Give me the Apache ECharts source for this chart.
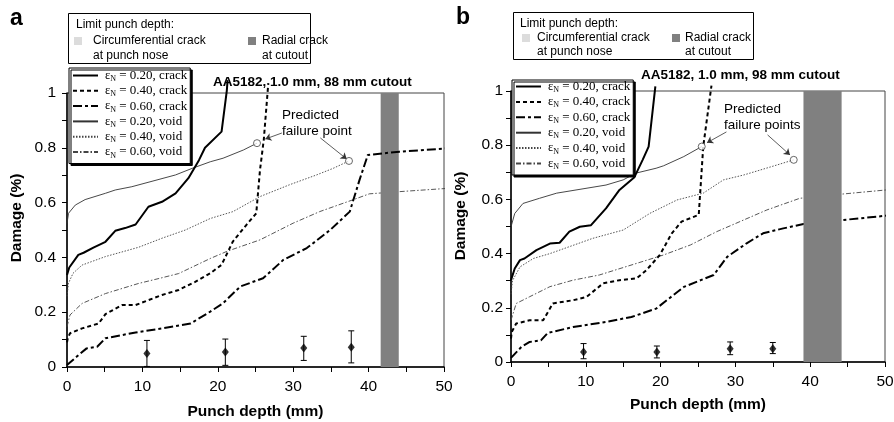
<!DOCTYPE html>
<html><head><meta charset="utf-8">
<script src="https://cdn.jsdelivr.net/npm/echarts@6/dist/echarts.min.js"></script>
<style>html,body{margin:0;padding:0;background:#fff}#c{width:894px;height:422px}</style>
</head><body><div id="c"></div>
<script>
// ---- data: punch depth (mm), damage ----
const xTickLabels = [0, 10, 20, 30, 40, 50];
const yTickLabels = [0, 0.2, 0.4, 0.6, 0.8, 1];

// Panel a: AA5182, 1.0 mm, 88 mm cutout
const aCrack20 = [[0,0.336],[0.3,0.363],[1.5,0.409],[2.2,0.417],[3.5,0.436],[5.1,0.457],[6.4,0.497],[7.7,0.507],[9.1,0.52],[10.8,0.585],[12.6,0.603],[14.4,0.634],[16.1,0.689],[17.5,0.755],[18.3,0.80],[20.5,0.859],[21.2,1.01],[21.3,1.047]];
const aCrack40 = [[0,0.09],[0.1,0.105],[0.4,0.123],[2.0,0.141],[4.2,0.159],[5.1,0.193],[7.3,0.226],[9.1,0.226],[10.8,0.244],[12.6,0.263],[14.8,0.281],[17.0,0.311],[19.0,0.342],[20.5,0.373],[22.0,0.458],[23.8,0.519],[25.1,0.561],[25.6,0.72],[26.1,0.83],[26.7,1.036]];
const aCrack60 = [[0,0.007],[1.3,0.038],[2.6,0.068],[4.0,0.074],[5.1,0.105],[9.1,0.126],[12.6,0.141],[16.4,0.159],[19.0,0.202],[20.7,0.233],[23,0.294],[26,0.324],[28.7,0.391],[31.8,0.434],[34.9,0.5],[37.5,0.567],[38.8,0.683],[39.9,0.774],[44.1,0.786],[50.5,0.798]];
const aVoid20 = [[0,0.524],[0.2,0.561],[1.1,0.591],[2.4,0.611],[5.1,0.634],[6.4,0.646],[8.6,0.658],[14.4,0.701],[16.6,0.725],[19.0,0.749],[20.7,0.762],[23.4,0.792],[25.2,0.817]];
const aVoid40 = [[0,0.258],[0.2,0.306],[0.8,0.342],[2.0,0.372],[5.1,0.403],[9.5,0.437],[12.6,0.47],[15.7,0.5],[19.0,0.542],[22,0.567],[25.6,0.622],[29.5,0.665],[33.1,0.701],[35.3,0.725],[37.4,0.752]];
const aVoid60 = [[0,0.147],[0.4,0.19],[2.0,0.232],[5.1,0.268],[9.5,0.305],[12.2,0.323],[14.8,0.341],[19.0,0.396],[21.2,0.422],[25.6,0.464],[30,0.525],[33.5,0.567],[37.9,0.61],[40.1,0.632],[44.1,0.64],[50.5,0.652]];
const aExp = [[10.6,0.049,0.002,0.097],[21.0,0.055,0.006,0.102],[31.4,0.069,0.024,0.112],[37.7,0.072,0.015,0.132]]; // x, mean, low, high
const aRadialBand = [[41.6, 44.0]];
const aArrows = [[[28.5,0.854],[26.3,0.832]], [[33.6,0.836],[37.1,0.759]]];

// Panel b: AA5182, 1.0 mm, 98 mm cutout
const bCrack20 = [[0,0.302],[0.5,0.345],[1.2,0.376],[1.8,0.382],[3.4,0.413],[5.2,0.437],[6.5,0.44],[7.8,0.481],[9.2,0.499],[10.7,0.505],[12.7,0.567],[14.5,0.635],[16.5,0.682],[17.6,0.746],[18.4,0.795],[19.3,1.017]];
const bCrack40 = [[0,0.086],[0.1,0.111],[0.7,0.142],[2.5,0.154],[4.3,0.154],[5.6,0.216],[8.3,0.228],[10.1,0.24],[12.3,0.29],[14.5,0.302],[16.8,0.309],[18.1,0.339],[19.9,0.395],[21.5,0.475],[22.8,0.518],[25.1,0.543],[25.7,0.795],[26.8,1.02]];
const bCrack60 = [[0,0.015],[1.4,0.056],[2.5,0.074],[4.0,0.08],[4.9,0.107],[8.3,0.129],[12.7,0.148],[16.1,0.166],[19.4,0.197],[23.1,0.277],[27.1,0.321],[28.9,0.388],[31.5,0.438],[33.7,0.475],[36.4,0.493],[39.1,0.509],[44.4,0.524],[50.2,0.54]];
const bVoid20 = [[0,0.499],[0.5,0.548],[1.6,0.585],[3.8,0.604],[6.1,0.623],[12.7,0.653],[15,0.672],[16.7,0.697],[19.4,0.715],[20.4,0.724],[23.1,0.758],[25.5,0.795]];
const bVoid40 = [[0,0.25],[0.2,0.3],[1.2,0.351],[3.0,0.382],[5.2,0.4],[10.9,0.456],[15,0.487],[18.6,0.549],[22.2,0.598],[25.7,0.623],[28.4,0.672],[31.1,0.69],[34.6,0.719],[37.8,0.746]];
const bVoid60 = [[0,0.154],[0.7,0.216],[2.5,0.241],[5.2,0.278],[8.3,0.302],[11.8,0.321],[16.8,0.364],[20.4,0.395],[24,0.432],[27.5,0.481],[31.1,0.524],[34.2,0.561],[38.6,0.604],[44.4,0.62],[50.2,0.635]];
const bExp = [[9.7,0.037,0.012,0.068],[19.5,0.037,0.015,0.059],[29.3,0.049,0.027,0.074],[35.0,0.049,0.031,0.072]];
const bRadialBand = [[39.1, 44.2]];
const bArrows = [[[28.8,0.849],[26.2,0.809]], [[34.3,0.838],[37.3,0.764]]];

const seriesNames = ['c20','c40','c60','v20','v40','v60'];
const legendLabels = {c20:'0.20, crack', c40:'0.40, crack', c60:'0.60, crack', v20:'0.20, void', v40:'0.40, void', v60:'0.60, void'};

// ---- styles ----
const SANS = 'Liberation Sans';
const SERIF = 'Liberation Serif';
const NONE = 'rgba(0,0,0,0)';
const lineStyles = {
  c20: {color:'#000', width:2, type:'solid'},
  c40: {color:'#000', width:2, type:[4,3]},
  c60: {color:'#000', width:2, type:[9,3,3,3]},
  v20: {color:'#333', width:0.9, type:'solid'},
  v40: {color:'#444', width:0.9, type:[1.5,1.5]},
  v60: {color:'#444', width:0.9, type:[5,2,1.5,2]}
};

function lineSeries(name, data, gi, z) {
  return {name, type:'line', data, xAxisIndex:gi, yAxisIndex:gi, symbol:'none', showSymbol:false, clip:false,
    itemStyle:{color:NONE, borderColor:NONE, borderWidth:0},
    lineStyle:lineStyles[name], z, silent:true};
}
function bandSeries(data, gi, z) {
  return {type:'custom', data, xAxisIndex:gi, yAxisIndex:gi, z, silent:true,
    renderItem(params, api) {
      const p1 = api.coord([api.value(0), 0]);
      const p2 = api.coord([api.value(1), 1]);
      return {type:'rect', shape:{x:p1[0], y:p2[1], width:p2[0]-p1[0], height:p1[1]-p2[1]},
        style:{fill:'#808080'}};
    }};
}
function errSeries(data, gi) {
  return {type:'custom', data, xAxisIndex:gi, yAxisIndex:gi, z:8, silent:true,
    renderItem(params, api) {
      const x = api.value(0);
      const lo = api.coord([x, api.value(2)]);
      const hi = api.coord([x, api.value(3)]);
      const st = {stroke:'#000', lineWidth:1};
      return {type:'group', children:[
        {type:'line', shape:{x1:lo[0], y1:lo[1], x2:hi[0], y2:hi[1]}, style:st},
        {type:'line', shape:{x1:lo[0]-3, y1:lo[1], x2:lo[0]+3, y2:lo[1]}, style:st},
        {type:'line', shape:{x1:hi[0]-3, y1:hi[1], x2:hi[0]+3, y2:hi[1]}, style:st}
      ]};
    }};
}
function meanSeries(data, gi) {
  return {type:'scatter', data:data.map(d=>[d[0], d[1]]), xAxisIndex:gi, yAxisIndex:gi, z:9,
    symbol:'diamond', symbolSize:[7,9], itemStyle:{color:'#000'}, silent:true};
}
function failSeries(pts, arrows, gi) {
  return {type:'scatter', data:pts, xAxisIndex:gi, yAxisIndex:gi, z:10, silent:true, clip:false,
    symbol:'circle', symbolSize:7, itemStyle:{color:'#fff', borderColor:'#444', borderWidth:1},
    markLine:{silent:true, symbol:['none','arrow'], symbolSize:6, animation:false,
      lineStyle:{color:'#333', width:0.8, type:'solid'}, label:{show:false},
      data: arrows.map(a=>[{coord:a[0]},{coord:a[1]}])}};
}

function xAxis(gi) {
  return {type:'value', gridIndex:gi, min:0, max:50, interval:10,
    axisLine:{show:true, onZero:false, lineStyle:{color:'#000', width:1.5}},
    axisTick:{show:true, length:5, lineStyle:{color:'#000', width:1}},
    minorTick:{show:true, splitNumber:2, length:5, lineStyle:{color:'#000', width:1}},
    splitLine:{show:false},
    axisLabel:{margin:12, color:'#000', fontFamily:SANS, fontSize:15.5},
    name:'Punch depth (mm)', nameLocation:'middle', nameGap: gi===0 ? 37 : 35,
    nameTextStyle:{color:'#000', fontFamily:SANS, fontSize:15.5, fontWeight:'bold'}};
}
function yAxis(gi) {
  return {type:'value', gridIndex:gi, min:0, max:1, interval:0.2,
    axisLine:{show:true, onZero:false, lineStyle:{color:'#000', width:1.5}},
    axisTick:{show:true, length:5, lineStyle:{color:'#000', width:1}},
    minorTick:{show:true, splitNumber:2, length:5, lineStyle:{color:'#000', width:1}},
    splitLine:{show:false},
    axisLabel:{margin: gi===0 ? 11 : 8, color:'#000', fontFamily:SANS, fontSize:15.5,
      formatter: v => (v === 0 ? '0' : (Math.abs(v-1) < 1e-9 ? '1' : v.toFixed(1)))}};
}
function legend(gi, left, top, gap, itemH, pad) {
  return {show:true, left, top, orient:'vertical', itemWidth:25, itemHeight:itemH, itemGap:gap,
    padding:pad, backgroundColor:'#fff', borderColor:'#000', borderWidth:1, borderRadius:0,
    shadowColor:'#000', shadowOffsetX:2, shadowOffsetY:2, shadowBlur:0, z:20,
    selectedMode:false, data:seriesNames,
    itemStyle:{color:NONE, borderColor:NONE, borderWidth:0},
    formatter: n => '{e|ε}{s|N}{t| = ' + legendLabels[n] + '}',
    textStyle:{color:'#000', fontFamily:SERIF, fontSize:13,
      rich:{e:{fontFamily:SERIF, fontSize:12.5, padding:[0,0,0,2], color:'#000'},
            s:{fontFamily:SERIF, fontSize:8, padding:[7,0,0,0], color:'#000'},
            t:{fontFamily:SERIF, fontSize:13, color:'#000'}}}};
}

function txt(x, y, text, size, extra) {
  return Object.assign({type:'text', x, y, silent:true, z:30,
    style:Object.assign({text, fill:'#000', fontFamily:SANS, fontSize:size, align:'left', verticalAlign:'middle'}, extra || {})});
}
function limitBox(x0, y0, w, h, rows, sqL, sqR, txL, txR) {
  return [
    {type:'rect', z:30, silent:true, shape:{x:x0, y:y0, width:w, height:h}, style:{fill:'#fff', stroke:'#000', lineWidth:1}},
    txt(txL - 17, rows[0], 'Limit punch depth:', 12),
    {type:'rect', z:31, silent:true, shape:{x:sqL, y:rows[1]-4, width:8, height:8}, style:{fill:'#dcdcdc'}},
    txt(txL, rows[1], 'Circumferential crack', 12),
    txt(txL, rows[2], 'at punch nose', 12),
    {type:'rect', z:31, silent:true, shape:{x:sqR, y:rows[1]-4, width:8, height:8}, style:{fill:'#808080'}},
    txt(txR, rows[1], 'Radial crack', 12),
    txt(txR, rows[2], 'at cutout', 12)
  ];
}

const graphics = [].concat(
  limitBox(68.5, 13.5, 242, 50, [25, 41, 56], 74, 248, 93, 262),
  limitBox(513.5, 12.5, 240, 47, [24, 38, 52], 522, 672, 537, 685),
  [
    txt(10, 19, 'a', 23, {fontWeight:'bold'}),
    txt(456, 18, 'b', 23, {fontWeight:'bold'}),
    txt(213, 82, 'AA5182, 1.0 mm, 88 mm cutout', 13.5, {fontWeight:'bold'}),
    txt(641, 75, 'AA5182, 1.0 mm, 98 mm cutout', 13.5, {fontWeight:'bold'}),
    txt(282, 115, 'Predicted', 13.5),
    txt(282, 131, 'failure point', 13.5),
    txt(724, 109, 'Predicted', 13.5),
    txt(724, 125, 'failure points', 13.5),
    {type:'text', x:17, y:218, rotation:Math.PI/2, silent:true, z:30,
      style:{text:'Damage (%)', fill:'#000', fontFamily:SANS, fontSize:15.5, fontWeight:'bold', align:'center', verticalAlign:'middle'}},
    {type:'text', x:461, y:216, rotation:Math.PI/2, silent:true, z:30,
      style:{text:'Damage (%)', fill:'#000', fontFamily:SANS, fontSize:15.5, fontWeight:'bold', align:'center', verticalAlign:'middle'}}
  ]
);

const chart = echarts.init(document.getElementById('c'), null, {renderer:'canvas'});
chart.setOption({
  animation:false,
  backgroundColor:'#fff',
  grid:[
    {left:67, top:93, width:377, height:274, show:true, borderColor:'#444', borderWidth:1, backgroundColor:'transparent', outerBoundsMode:'none', containLabel:false},
    {left:511, top:91, width:374, height:271, show:true, borderColor:'#444', borderWidth:1, backgroundColor:'transparent', outerBoundsMode:'none', containLabel:false}
  ],
  xAxis:[xAxis(0), xAxis(1)],
  yAxis:[yAxis(0), yAxis(1)],
  legend:[legend(0, 69, 68, 1.3, 14, [1,3,4,3]), legend(1, 512, 80, 1.4, 13, [0,3,4,3])],
  graphic:graphics,
  series:[
    lineSeries('v20', aVoid20, 0, 2), lineSeries('v40', aVoid40, 0, 2), lineSeries('v60', aVoid60, 0, 2),
    bandSeries(aRadialBand, 0, 3),
    lineSeries('c20', aCrack20, 0, 4), lineSeries('c40', aCrack40, 0, 4), lineSeries('c60', aCrack60, 0, 4),
    errSeries(aExp, 0), meanSeries(aExp, 0),
    failSeries([aVoid20[aVoid20.length-1], aVoid40[aVoid40.length-1]], aArrows, 0),

    lineSeries('v20', bVoid20, 1, 2), lineSeries('v40', bVoid40, 1, 2), lineSeries('v60', bVoid60, 1, 2),
    lineSeries('c20', bCrack20, 1, 4), lineSeries('c40', bCrack40, 1, 4), lineSeries('c60', bCrack60, 1, 4),
    bandSeries(bRadialBand, 1, 6),
    errSeries(bExp, 1), meanSeries(bExp, 1),
    failSeries([bVoid20[bVoid20.length-1], bVoid40[bVoid40.length-1]], bArrows, 1)
  ]
});
</script>
</body></html>
